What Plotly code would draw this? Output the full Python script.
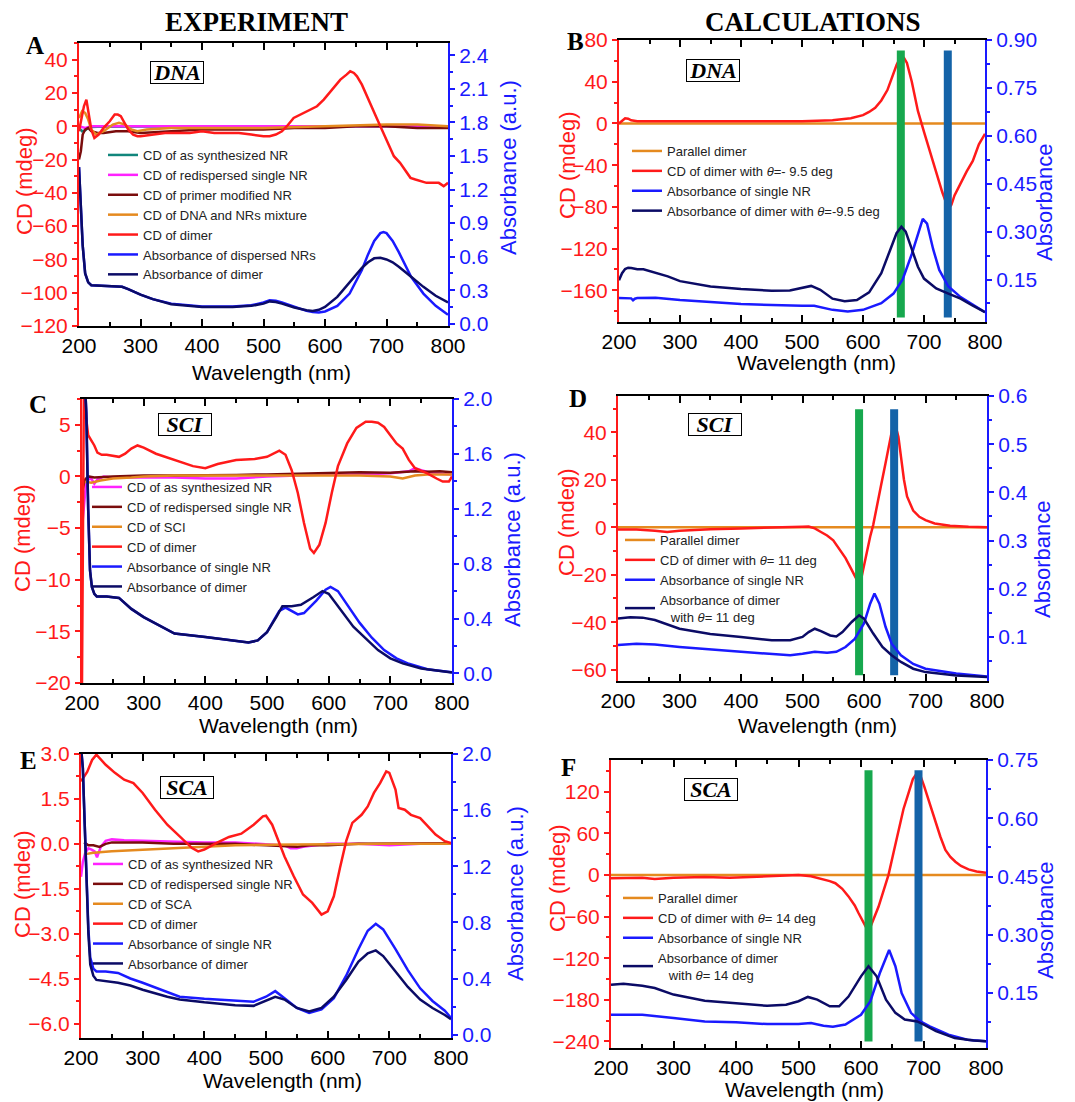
import plotly.graph_objects as go

W, H = 1075, 1102

# ---------------- DATA ----------------
# Panel A (experiment, DNA)
A_teal_wl = [200, 205, 210, 215, 220, 230, 300, 400, 500, 600, 700, 800]
A_teal_cd = [-1, -3, -2.5, -1, -0.5, -0.3, -0.2, -0.2, -0.2, 0, 0, 0]
A_mag_wl = [200, 210, 220, 300, 400, 500, 600, 700, 800]
A_mag_cd = [0, -1, 0, 0, 0, 0, 0, 0, 0]
A_brown_wl = [200, 203, 206, 210, 215, 220, 230, 240, 260, 280, 300, 350, 400, 450, 500, 550, 600, 650, 700, 750, 800]
A_brown_cd = [-20, -15, -5, -2, -1, -3, -4, -4, -3, -3, -4, -3, -2, -2, -2, -1, -1, 0, 0, -1, -1]
A_orange_wl = [200, 205, 210, 215, 220, 228, 240, 255, 265, 275, 285, 295, 310, 350, 400, 500, 600, 650, 700, 750, 780, 800]
A_orange_cd = [5, 9, 8, 4, -2, -5, -3, 1, 2, 1, -2, -3, -2, -1, -1, -1, 0, 0.5, 1, 1, 0.5, 0]
A_red_wl = [200, 204, 208, 212, 216, 220, 225, 232, 240, 250, 258, 263, 268, 273, 280, 288, 295, 300, 320, 340, 360, 380, 400, 420, 440, 460, 480, 500, 510, 520, 530, 538, 549, 560, 570, 587, 598, 614, 625, 635, 641, 647, 652, 660, 668, 676, 684, 690, 695, 703, 712, 722, 730, 739, 747, 755, 765, 777, 785, 793, 800]
A_red_cd = [-3, 5, 12, 16, 6, -2, -7, -5, -1, 3, 7, 7, 6, 3, -2, -5, -6, -6, -5, -4, -4, -4, -3, -4, -4, -4, -5, -6, -6, -5, -3, 0, 5, 7, 9, 12, 16, 23, 28, 31, 33, 32, 30, 25, 18, 11, 5, 0, -4, -11, -18, -22, -26, -31, -32, -33, -34, -34, -34, -36, -34]
A_abs_wl = [200, 203, 206, 210, 215, 220, 240, 260, 270, 280, 300, 320, 350, 400, 450, 480, 500, 510, 520, 530, 550, 570, 580, 590, 600, 620, 640, 660, 670, 680, 690, 695, 700, 710, 720, 740, 760, 780, 800]
A_abs_single = [1.40, 1.05, 0.70, 0.45, 0.37, 0.345, 0.34, 0.335, 0.33, 0.31, 0.26, 0.22, 0.18, 0.155, 0.155, 0.165, 0.19, 0.21, 0.205, 0.19, 0.15, 0.115, 0.105, 0.10, 0.11, 0.16, 0.27, 0.48, 0.62, 0.74, 0.81, 0.82, 0.81, 0.74, 0.64, 0.42, 0.27, 0.16, 0.08]
A_abs_dimer = [1.40, 1.05, 0.70, 0.45, 0.37, 0.345, 0.34, 0.335, 0.33, 0.31, 0.26, 0.22, 0.175, 0.15, 0.15, 0.16, 0.18, 0.20, 0.195, 0.18, 0.145, 0.12, 0.115, 0.125, 0.15, 0.24, 0.37, 0.50, 0.55, 0.585, 0.59, 0.585, 0.575, 0.55, 0.51, 0.42, 0.33, 0.25, 0.19]

# Panel B (calculation, DNA)
B_par_wl = [200, 800]
B_par_cd = [0, 0]
B_red_wl = [200, 205, 210, 215, 220, 230, 250, 300, 400, 500, 550, 580, 600, 610, 620, 630, 640, 648, 655, 660, 663, 667, 672, 680, 690, 700, 710, 720, 730, 740, 745, 750, 760, 770, 780, 790, 800]
B_red_cd = [0, 3, 5, 4.5, 3, 2, 2, 1.5, 1.5, 2, 3, 5, 8, 11, 15, 22, 32, 45, 56, 62, 64, 63, 58, 40, 12, -8, -28, -48, -66, -82, -78, -69, -57, -46, -36, -20, -10]
B_single_wl = [200, 210, 220, 223, 226, 230, 260, 300, 400, 500, 520, 550, 575, 600, 630, 650, 665, 680, 690, 698, 705, 715, 725, 740, 760, 780, 800]
B_single_abs = [0.092, 0.092, 0.091, 0.085, 0.09, 0.092, 0.093, 0.086, 0.073, 0.068, 0.068, 0.055, 0.05, 0.055, 0.076, 0.106, 0.15, 0.23, 0.294, 0.34, 0.325, 0.245, 0.18, 0.128, 0.095, 0.072, 0.048]
B_dimer_wl = [200, 205, 210, 215, 220, 230, 240, 260, 280, 300, 350, 400, 450, 480, 500, 515, 530, 550, 570, 590, 610, 630, 645, 655, 663, 670, 680, 690, 700, 720, 740, 760, 780, 800]
B_dimer_abs = [0.148, 0.17, 0.183, 0.187, 0.186, 0.182, 0.182, 0.172, 0.16, 0.145, 0.128, 0.12, 0.115, 0.116, 0.124, 0.13, 0.118, 0.09, 0.082, 0.086, 0.11, 0.17, 0.245, 0.295, 0.315, 0.30, 0.245, 0.19, 0.153, 0.122, 0.106, 0.09, 0.068, 0.048]
B_bar_wl = [662, 739]
B_bar_cd = [-186, 70]

# Panel C (experiment, SCI)
C_mag_wl = [200, 203, 206, 210, 215, 220, 225, 235, 250, 300, 350, 400, 450, 500, 550, 600, 650, 700, 730, 740, 750, 770, 800]
C_mag_cd = [-5, -3, -1, -0.3, -0.2, -0.7, -0.3, 0, -0.1, -0.1, -0.1, -0.2, -0.2, 0, 0.1, 0.2, 0.2, 0.3, 0.5, 0.8, 0.6, 0.3, 0.2]
C_brown_wl = [200, 205, 210, 220, 250, 300, 350, 400, 450, 500, 550, 600, 650, 700, 720, 740, 760, 780, 800]
C_brown_cd = [-1.5, -0.3, 0, -0.1, 0, 0.1, 0.1, 0.1, 0.15, 0.2, 0.25, 0.35, 0.4, 0.35, 0.45, 0.5, 0.45, 0.5, 0.4]
C_orange_wl = [205, 215, 230, 250, 280, 300, 350, 400, 450, 500, 550, 600, 650, 700, 720, 740, 760, 800]
C_orange_cd = [-0.5, -0.6, -0.4, -0.2, -0.1, 0.0, 0.1, 0.1, 0.1, 0.1, 0.1, 0.1, 0.1, 0.0, -0.2, 0.1, 0.2, 0.2]
C_red_wl = [200, 203, 206, 210, 215, 220, 225, 232, 240, 250, 260, 270, 280, 290, 300, 320, 350, 380, 400, 420, 450, 480, 500, 510, 520, 530, 540, 550, 560, 570, 576, 585, 595, 605, 615, 630, 645, 660, 670, 680, 690, 700, 710, 720, 730, 740, 760, 775, 785, 795, 800]
C_red_cd = [-20, 8, 6, 4, 3.5, 3.0, 2.3, 2.1, 2.1, 2.0, 1.9, 2.2, 2.7, 3.0, 2.8, 2.2, 1.6, 1.0, 0.8, 1.2, 1.6, 1.7, 1.9, 2.2, 2.5, 2.1, 0.6, -1.6, -4.5, -7.0, -7.4, -6.6, -4.5, -1.6, 1.0, 3.2, 4.7, 5.3, 5.3, 5.2, 4.8, 4.0, 3.2, 2.7, 1.6, 0.8, 0.3, -0.2, -0.5, -0.5, 0.0]
C_single_wl = [205, 207, 210, 213, 216, 220, 224, 240, 260, 280, 300, 320, 350, 400, 450, 470, 485, 500, 510, 520, 530, 540, 550, 560, 580, 595, 603, 615, 630, 650, 670, 690, 710, 730, 760, 800]
C_single_abs = [2.1, 1.9, 1.2, 0.75, 0.63, 0.58, 0.56, 0.56, 0.55, 0.47, 0.41, 0.36, 0.29, 0.265, 0.235, 0.225, 0.24, 0.30, 0.38, 0.455, 0.48, 0.455, 0.43, 0.44, 0.53, 0.61, 0.63, 0.60, 0.50, 0.37, 0.26, 0.17, 0.11, 0.07, 0.03, 0.008]
C_dimer_wl = [205, 207, 210, 213, 216, 220, 224, 240, 260, 280, 300, 320, 350, 400, 450, 470, 485, 500, 515, 525, 540, 555, 575, 590, 600, 620, 640, 660, 680, 700, 720, 750, 780, 800]
C_dimer_abs = [2.1, 1.9, 1.2, 0.75, 0.63, 0.58, 0.56, 0.56, 0.55, 0.47, 0.41, 0.36, 0.29, 0.265, 0.235, 0.225, 0.24, 0.30, 0.41, 0.49, 0.49, 0.50, 0.555, 0.60, 0.58, 0.46, 0.34, 0.255, 0.17, 0.11, 0.073, 0.036, 0.017, 0.007]

# Panel D (calculation, SCI)
D_par_wl = [200, 800]
D_par_cd = [0, 0]
D_red_wl = [200, 230, 260, 280, 300, 350, 400, 450, 500, 510, 520, 530, 540, 550, 560, 570, 580, 585, 590, 594, 600, 605, 610, 615, 620, 628, 635, 640, 645, 648, 652, 656, 660, 665, 670, 680, 690, 700, 715, 740, 770, 800]
D_red_cd = [-1, -1, -1.5, -2, -1.5, -0.8, -0.5, -0.3, 0.2, 0.3, -0.5, -2, -3.5, -5.5, -9, -13, -18, -20.5, -23, -23.5, -16, -10, -4, 1, 7, 18, 27, 33, 40, 44, 42, 38, 30, 20, 13, 7, 4.4, 3, 1.6, 0.6, 0.2, 0]
D_single_wl = [200, 230, 260, 300, 400, 450, 480, 500, 520, 540, 555, 570, 585, 600, 610, 617, 625, 635, 645, 660, 680, 700, 750, 800]
D_single_abs = [0.083, 0.086, 0.084, 0.079, 0.069, 0.065, 0.062, 0.065, 0.069, 0.067, 0.069, 0.079, 0.096, 0.128, 0.169, 0.19, 0.169, 0.121, 0.086, 0.062, 0.044, 0.034, 0.024, 0.018]
D_dimer_wl = [200, 220, 240, 260, 300, 350, 400, 450, 480, 500, 510, 520, 530, 545, 555, 565, 580, 592, 600, 615, 630, 645, 660, 680, 700, 750, 800]
D_dimer_abs = [0.138, 0.141, 0.14, 0.135, 0.117, 0.106, 0.1, 0.093, 0.093, 0.1, 0.11, 0.117, 0.112, 0.103, 0.101, 0.11, 0.131, 0.145, 0.138, 0.107, 0.079, 0.062, 0.048, 0.034, 0.027, 0.02, 0.017]
D_bar_wl = [592, 649]
D_bar_cd = [-62.4, 49.7]

# Panel E (experiment, SCA)
E_mag_wl = [200, 203, 207, 212, 218, 222, 226, 232, 240, 250, 270, 300, 350, 400, 450, 500, 530, 540, 550, 560, 580, 600, 650, 700, 750, 800]
E_mag_cd = [-1.1, -0.6, -0.3, -0.15, -0.2, -0.25, -0.45, -0.1, 0.1, 0.15, 0.12, 0.1, 0.08, 0.05, 0.05, 0.0, -0.05, -0.15, -0.15, -0.1, -0.05, 0.0, 0.0, -0.05, 0.0, 0.0]
E_brown_wl = [205, 212, 220, 230, 240, 250, 300, 350, 400, 450, 500, 550, 570, 600, 650, 700, 750, 800]
E_brown_cd = [0.05, -0.05, -0.05, -0.1, 0.0, 0.05, 0.05, 0.0, 0.0, 0.0, -0.05, -0.1, -0.05, -0.05, 0.0, 0.0, 0.02, 0.02]
E_orange_wl = [205, 220, 250, 300, 350, 400, 450, 500, 550, 600, 650, 700, 800]
E_orange_cd = [-0.35, -0.3, -0.25, -0.2, -0.15, -0.08, -0.05, -0.03, -0.02, 0.0, 0.0, 0.0, 0.0]
E_red_wl = [200, 210, 218, 225, 240, 255, 270, 285, 300, 320, 340, 360, 380, 390, 400, 420, 440, 460, 480, 495, 500, 510, 520, 530, 545, 560, 575, 590, 600, 610, 620, 630, 640, 655, 665, 675, 685, 695, 700, 710, 715, 725, 735, 750, 760, 775, 790, 800]
E_red_cd = [2.09, 2.4, 2.8, 2.98, 2.64, 2.37, 2.14, 2.03, 1.7, 1.14, 0.64, 0.25, -0.14, -0.25, -0.19, 0.03, 0.23, 0.34, 0.64, 0.92, 0.94, 0.64, 0.09, -0.42, -1.08, -1.69, -1.97, -2.36, -2.25, -1.75, -0.8, 0.09, 0.7, 0.97, 1.25, 1.7, 2.03, 2.42, 2.37, 1.81, 1.2, 1.14, 0.97, 0.86, 0.64, 0.31, 0.09, 0.03]
E_abs_wl = [200, 203, 206, 209, 212, 215, 220, 225, 240, 260, 280, 300, 340, 360, 400, 450, 480, 500, 515, 530, 550, 570, 590, 610, 630, 650, 665, 678, 690, 710, 730, 750, 770, 790, 800]
E_abs_single = [2.05, 1.9, 1.5, 1.1, 0.75, 0.55, 0.47, 0.45, 0.45, 0.44, 0.40, 0.37, 0.30, 0.27, 0.255, 0.24, 0.235, 0.27, 0.31, 0.26, 0.19, 0.155, 0.18, 0.26, 0.42, 0.61, 0.74, 0.79, 0.75, 0.61, 0.46, 0.33, 0.24, 0.17, 0.12]
E_abs_dimer = [2.05, 1.9, 1.5, 1.1, 0.72, 0.5, 0.42, 0.39, 0.38, 0.37, 0.35, 0.32, 0.27, 0.25, 0.23, 0.21, 0.205, 0.245, 0.27, 0.25, 0.19, 0.165, 0.19, 0.27, 0.39, 0.52, 0.58, 0.60, 0.56, 0.45, 0.34, 0.25, 0.19, 0.14, 0.11]

# Panel F (calculation, SCA)
F_par_wl = [200, 800]
F_par_cd = [0, 0]
F_red_wl = [200, 230, 250, 270, 300, 350, 390, 450, 500, 520, 540, 550, 559, 570, 580, 590, 596, 602, 607, 612, 620, 628, 636, 644, 652, 660, 668, 676, 683, 689, 695, 701, 708, 714, 719, 727, 735, 743, 751, 760, 772, 785, 800]
F_red_cd = [-5, -4, -4, -6, -4, -3, -4, -2, 0, -2, -6, -9, -12, -20, -31, -44, -55, -66, -74, -82, -64, -46, -23, 0, 32, 65, 95, 118, 138, 146, 143, 128, 108, 92, 79, 55, 36, 26, 19, 13, 8, 5, 3]
F_single_wl = [200, 250, 300, 350, 400, 450, 500, 520, 540, 555, 575, 600, 615, 630, 645, 655, 665, 680, 695, 710, 740, 770, 800]
F_single_abs = [0.094, 0.094, 0.086, 0.077, 0.075, 0.07, 0.07, 0.073, 0.066, 0.063, 0.069, 0.094, 0.129, 0.201, 0.261, 0.219, 0.15, 0.099, 0.077, 0.064, 0.043, 0.03, 0.026]
F_dimer_wl = [200, 220, 250, 270, 300, 350, 400, 450, 480, 500, 515, 530, 550, 565, 580, 600, 612, 625, 640, 655, 670, 690, 700, 720, 750, 780, 800]
F_dimer_abs = [0.171, 0.174, 0.169, 0.163, 0.146, 0.13, 0.124, 0.117, 0.12, 0.129, 0.14, 0.133, 0.116, 0.116, 0.141, 0.193, 0.219, 0.193, 0.133, 0.099, 0.082, 0.077, 0.069, 0.052, 0.034, 0.028, 0.026]
F_bar_wl = [612, 692]
F_bar_cd = [-240, 151]

# ---------------- STYLE ----------------
TEAL = "#11867c"
MAGENTA = "#ff22ff"
BROWN = "#7a0c0c"
ORANGE = "#e58a1f"
RED = "#ff1a1a"
BLUE = "#1a1aff"
NAVY = "#0b0b66"
GREEN_BAR = "#17a84e"
BLUE_BAR = "#1463a8"
SANS = "Liberation Sans, Arial, sans-serif"
SERIF = "Liberation Serif, Times New Roman, serif"

fig = go.Figure()

# pixel boxes of plot areas: (left, top, right, bottom)
boxes = {
    1: (79, 43, 448, 326),
    2: (619, 40, 985, 322),
    3: (82, 399, 452, 683),
    4: (618, 396, 987, 681),
    5: (81, 754, 451, 1038),
    6: (611, 760, 986, 1048),
}

def add_line(i, x, y, name, color, right=False, legend=True, width=2.5):
    fig.add_trace(go.Scatter(
        x=x, y=y, mode="lines", name=name,
        line=dict(color=color, width=width),
        xaxis=f"x{i}", yaxis=f"y{i + 6}" if right else f"y{i}",
        legend=("legend" if i == 1 else f"legend{i}"),
        showlegend=legend, hoverinfo="skip"))

def add_bars(i, wl, cd):
    for w, c in zip(wl, [GREEN_BAR, BLUE_BAR]):
        fig.add_trace(go.Scatter(
            x=[w, w], y=cd, mode="lines", line=dict(color=c, width=8),
            xaxis=f"x{i}", yaxis=f"y{i}", showlegend=False, hoverinfo="skip"))

th = "<i>θ</i>"
# Panel A
add_line(1, A_teal_wl, A_teal_cd, "CD of as synthesized NR", TEAL)
add_line(1, A_mag_wl, A_mag_cd, "CD of redispersed single NR", MAGENTA)
add_line(1, A_brown_wl, A_brown_cd, "CD of primer modified NR", BROWN)
add_line(1, A_orange_wl, A_orange_cd, "CD of DNA and NRs mixture", ORANGE)
add_line(1, A_red_wl, A_red_cd, "CD of dimer", RED)
add_line(1, A_abs_wl, A_abs_single, "Absorbance of dispersed NRs", BLUE, right=True)
add_line(1, A_abs_wl, A_abs_dimer, "Absorbance of dimer", NAVY, right=True)
# Panel B
add_line(2, B_par_wl, B_par_cd, "Parallel dimer", ORANGE)
add_line(2, B_red_wl, B_red_cd, f"CD of dimer with {th}=- 9.5 deg", RED)
add_line(2, B_single_wl, B_single_abs, "Absorbance of single NR", BLUE, right=True)
add_line(2, B_dimer_wl, B_dimer_abs, f"Absorbance of dimer with {th}=-9.5 deg", NAVY, right=True)
add_bars(2, B_bar_wl, B_bar_cd)
# Panel C
add_line(3, C_mag_wl, C_mag_cd, "CD of as synthesized NR", MAGENTA)
add_line(3, C_brown_wl, C_brown_cd, "CD of redispersed single NR", BROWN)
add_line(3, C_orange_wl, C_orange_cd, "CD of SCI", ORANGE)
add_line(3, C_red_wl, C_red_cd, "CD of dimer", RED)
add_line(3, C_single_wl, C_single_abs, "Absorbance of single NR", BLUE, right=True)
add_line(3, C_dimer_wl, C_dimer_abs, "Absorbance of dimer", NAVY, right=True)
# Panel D
add_line(4, D_par_wl, D_par_cd, "Parallel dimer", ORANGE)
add_line(4, D_red_wl, D_red_cd, f"CD of dimer with {th}= 11 deg", RED)
add_line(4, D_single_wl, D_single_abs, "Absorbance of single NR", BLUE, right=True)
add_line(4, D_dimer_wl, D_dimer_abs, f"Absorbance of dimer<br>\u00a0\u00a0\u00a0with {th}= 11 deg", NAVY, right=True)
add_bars(4, D_bar_wl, D_bar_cd)
# Panel E
add_line(5, E_mag_wl, E_mag_cd, "CD of as synthesized NR", MAGENTA)
add_line(5, E_brown_wl, E_brown_cd, "CD of redispersed single NR", BROWN)
add_line(5, E_orange_wl, E_orange_cd, "CD of SCA", ORANGE)
add_line(5, E_red_wl, E_red_cd, "CD of dimer", RED)
add_line(5, E_abs_wl, E_abs_single, "Absorbance of single NR", BLUE, right=True)
add_line(5, E_abs_wl, E_abs_dimer, "Absorbance of dimer", NAVY, right=True)
# Panel F
add_line(6, F_par_wl, F_par_cd, "Parallel dimer", ORANGE)
add_line(6, F_red_wl, F_red_cd, f"CD of dimer with {th}= 14 deg", RED)
add_line(6, F_single_wl, F_single_abs, "Absorbance of single NR", BLUE, right=True)
add_line(6, F_dimer_wl, F_dimer_abs, f"Absorbance of dimer<br>\u00a0\u00a0\u00a0with {th}= 14 deg", NAVY, right=True)
add_bars(6, F_bar_wl, F_bar_cd)

# axis settings per panel: (cd range, cd dtick, cd fmt, abs range, abs dtick, abs fmt)
axcfg = {
    1: ([-120, 50], 20, "", [-0.02, 2.51], 0.3, ".1f"),
    2: ([-190.4, 80], 40, "", [0.017, 0.90], 0.15, ".2f"),
    3: ([-20, 7.5], 5, "", [-0.07, 2.0], 0.4, ".1f"),
    4: ([-64.8, 55.3], 20, "", [0.0085, 0.6], 0.1, ".1f"),
    5: ([-6.48, 3.0], 1.5, ".1f", [-0.024, 2.0], 0.4, ".1f"),
    6: ([-249.5, 165.6], 60, "", [0.0085, 0.75], 0.15, ".2f"),
}

layout = dict(
    width=W, height=H, margin=dict(l=0, r=0, t=0, b=0),
    paper_bgcolor="white", plot_bgcolor="white",
    font=dict(family=SANS, size=20, color="black"),
)

TICKFONT = 21
for i, (l, t, r, b) in boxes.items():
    xd = [l / W, r / W]
    yd = [1 - b / H, 1 - t / H]
    cdr, cdt, cdf, abr, abt, abf = axcfg[i]
    layout[f"xaxis{i}"] = dict(
        domain=xd, range=[200, 800], anchor=f"y{i}", dtick=100, tick0=0,
        showline=True, linecolor="black", linewidth=1.5, mirror="ticks",
        ticks="inside", ticklen=7, tickwidth=1.5, tickcolor="black",
        minor=dict(ticks="inside", ticklen=4, dtick=50, tickwidth=1.5, tickcolor="black"),
        showgrid=False, zeroline=False,
        tickfont=dict(size=TICKFONT, color="black", family=SANS),
        automargin=False,
    )
    layout[f"yaxis{i}"] = dict(
        domain=yd, range=cdr, anchor=f"x{i}", dtick=cdt, tick0=0, tickformat=cdf,
        showline=True, linecolor=RED, linewidth=2,
        ticks="outside", ticklen=5, tickwidth=1.5, tickcolor=RED,
        minor=dict(ticks="outside", ticklen=3, dtick=cdt / 2, tickwidth=1.5, tickcolor=RED),
        showgrid=False, zeroline=False,
        tickfont=dict(size=TICKFONT, color=RED, family=SANS),
        automargin=False,
    )
    layout[f"yaxis{i + 6}"] = dict(
        range=abr, anchor=f"x{i}", overlaying=f"y{i}", side="right",
        dtick=abt, tick0=0, tickformat=abf,
        showline=True, linecolor=BLUE, linewidth=2,
        ticks="outside", ticklen=5, tickwidth=1.5, tickcolor=BLUE,
        minor=dict(ticks="outside", ticklen=3, dtick=abt / 2, tickwidth=1.5, tickcolor=BLUE),
        showgrid=False, zeroline=False,
        tickfont=dict(size=TICKFONT, color=BLUE, family=SANS),
        automargin=False,
    )

# legends (pixel left / top)
legpos = {1: (103, 140), 2: (627, 136), 3: (87, 472), 4: (620, 525), 5: (88, 849), 6: (618, 883)}
for i, (lx, ty) in legpos.items():
    key = "legend" if i == 1 else f"legend{i}"
    layout[key] = dict(
        x=lx / W, y=1 - ty / H, xanchor="left", yanchor="top",
        bgcolor="rgba(0,0,0,0)", borderwidth=0,
        font=dict(size=13, family=SANS, color="#222"),
        itemwidth=30, tracegroupgap=0, traceorder="normal",
    )

annotations = []
def ann(text, px, py, size, family=SERIF, color="black", angle=0, box=None):
    d = dict(text=text, x=px / W, y=1 - py / H, xref="paper", yref="paper",
             showarrow=False, xanchor="center", yanchor="middle", textangle=angle,
             font=dict(size=size, family=family, color=color))
    if box:
        d.update(bordercolor="black", borderwidth=1, borderpad=0, bgcolor="white",
                 width=box[0], height=box[1])
    annotations.append(d)

ann("<b>EXPERIMENT</b>", 256, 22, 27)
ann("<b>CALCULATIONS</b>", 813, 22, 27)
for letter, (px, py) in zip("ABCDEF", [(35, 46), (575, 41), (38, 404), (578, 398), (28, 760), (568, 767)]):
    ann(f"<b>{letter}</b>", px, py, 25)
for text, (px, py) in zip(["DNA", "DNA", "SCI", "SCI", "SCA", "SCA"],
                          [(177, 73), (713, 70), (185, 424), (715, 424), (187, 787), (711, 789)]):
    ann(f"<b><i>{text}</i></b>", px, py, 22, box=(52, 21))

# axis titles
xtitles = [(271, 372), (816, 362), (278, 725), (817, 725), (282, 1080), (804, 1089)]
cdtitles = [(24, 181), (567, 165), (22, 538), (567, 522), (22, 884), (557, 878)]
abtitles = [(508, 168, "Absorbance (a.u.)"), (1044, 203, "Absorbance"), (512, 540, "Absorbance (a.u.)"),
            (1042, 560, "Absorbance"), (515, 894, "Absorbance (a.u.)"), (1045, 921, "Absorbance")]
for px, py in xtitles:
    ann("Wavelength (nm)", px, py, 21, family=SANS)
for px, py in cdtitles:
    ann("CD (mdeg)", px, py, 22, family=SANS, color=RED, angle=-90)
for px, py, t in abtitles:
    ann(t, px, py, 22, family=SANS, color=BLUE, angle=-90)

layout["annotations"] = annotations
fig.update_layout(**layout)
fig.write_html("out.html", config={"displayModeBar": False},
               post_script="document.body.style.margin='0px';document.body.style.overflow='hidden';")
